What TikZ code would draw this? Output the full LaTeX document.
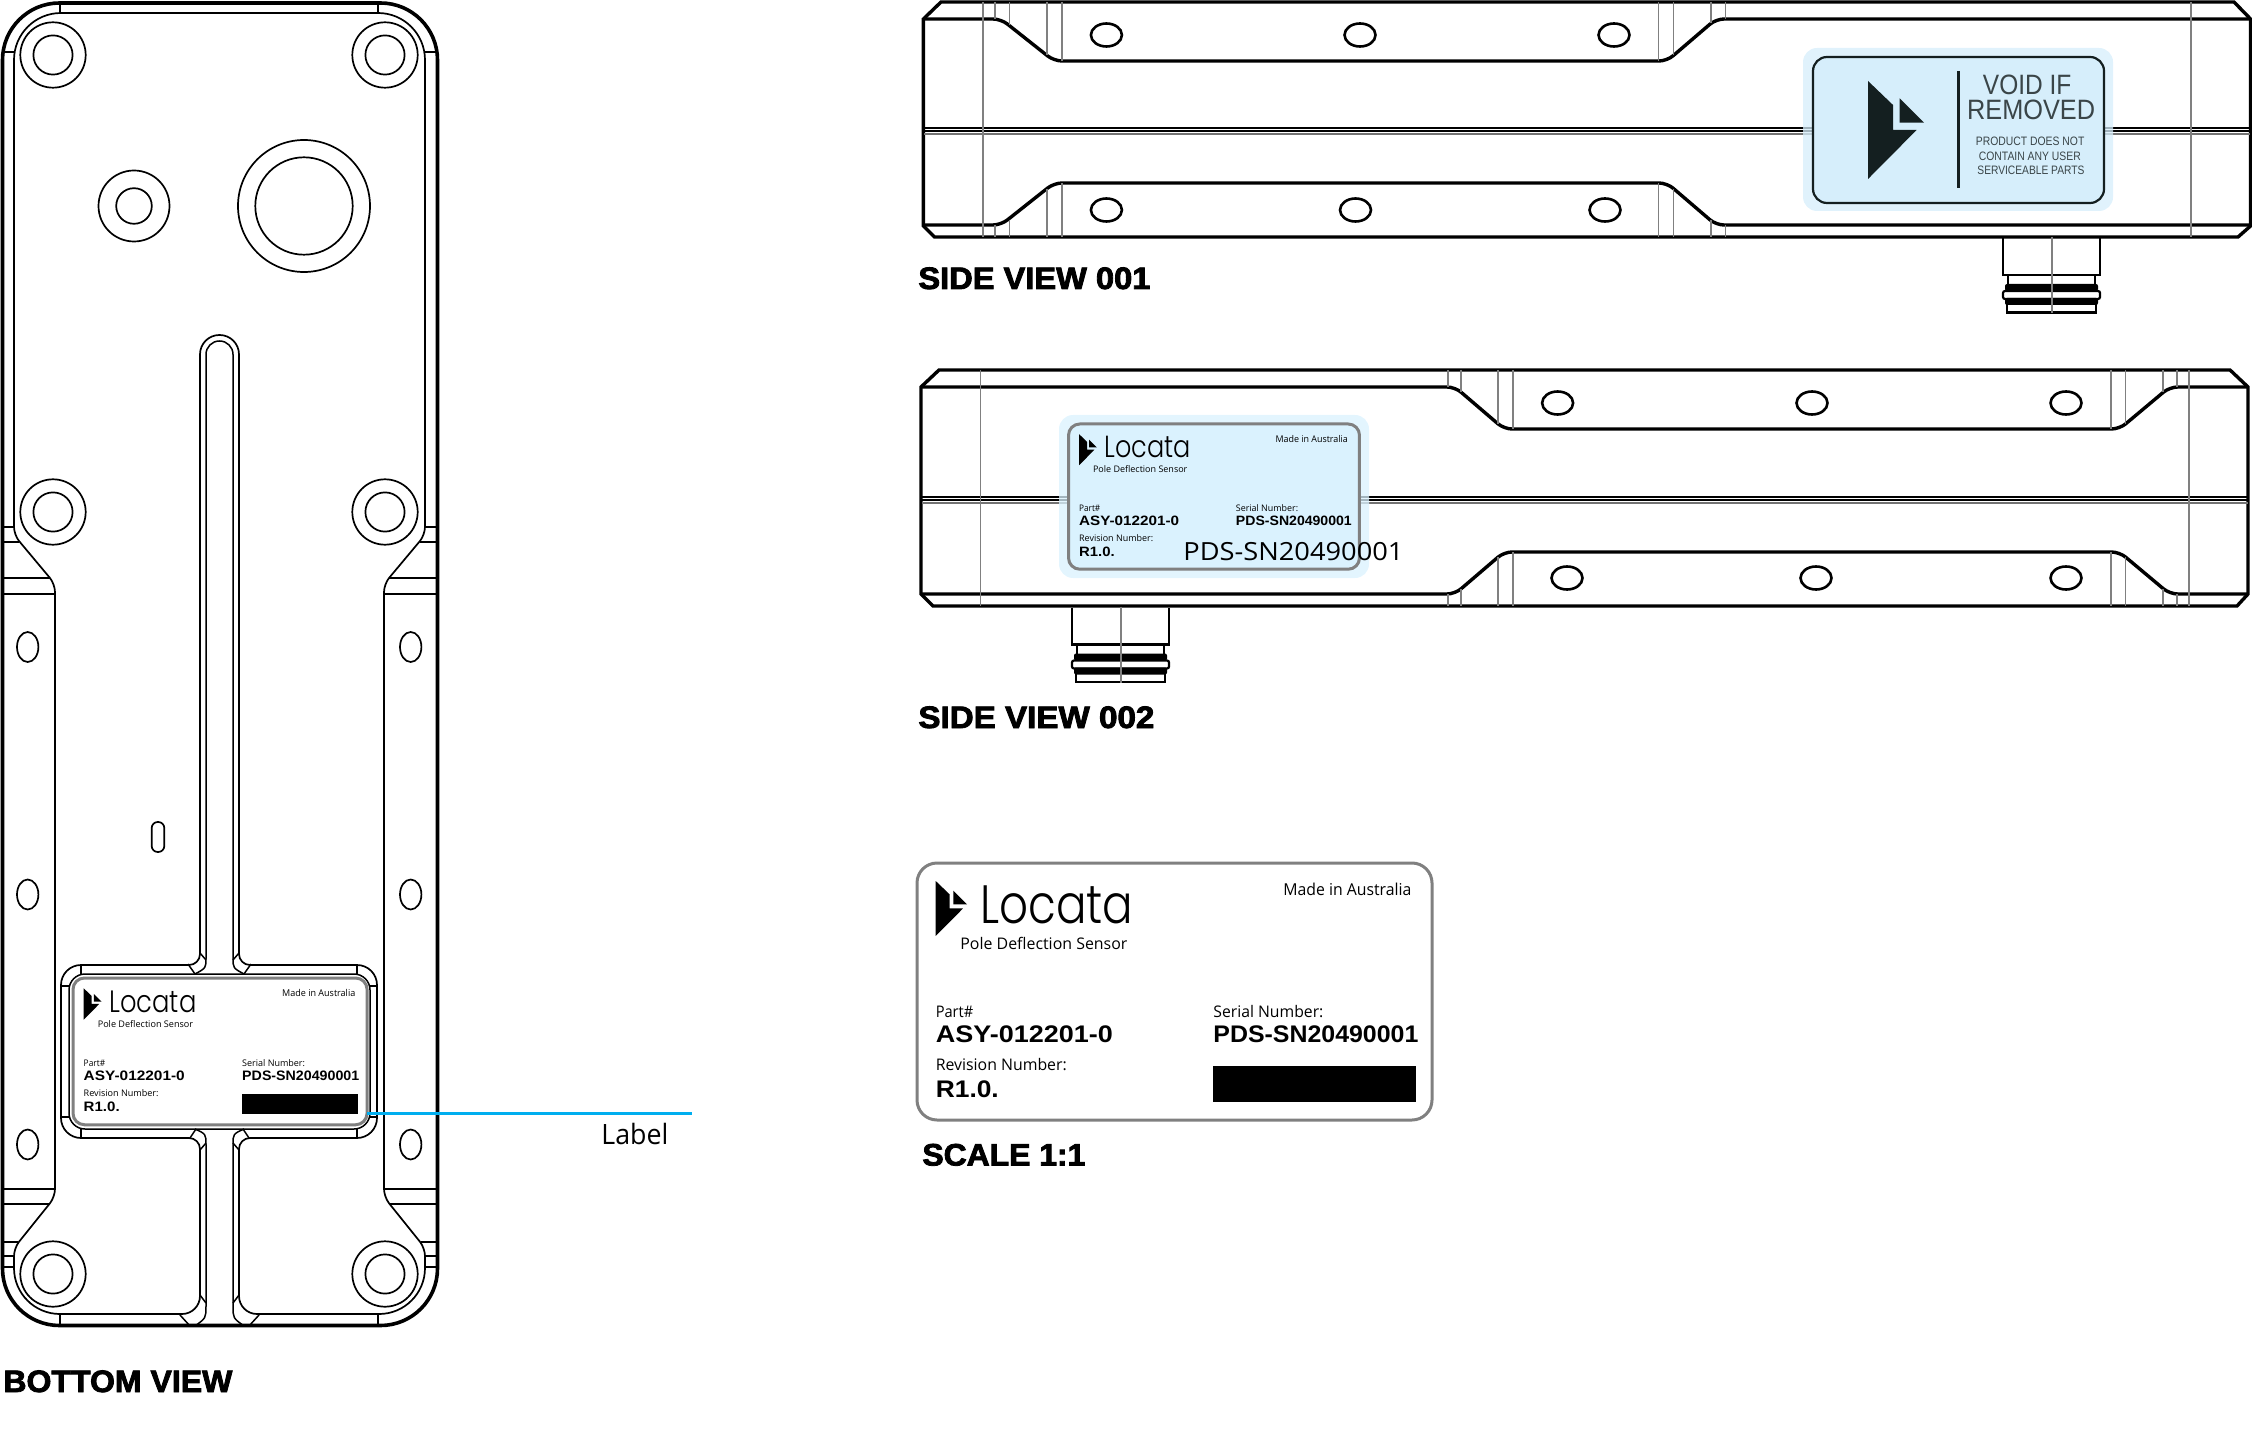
\documentclass[tikz,border=0pt]{standalone}
\usepackage{fontspec}
\usepackage{graphicx}
\setmainfont{Open Sans}
\newfontfamily\opn{Open Sans}
\newfontfamily\lib{Liberation Sans}
\newfontfamily\titlefont[FakeBold=2.6]{Liberation Sans}
\newfontfamily\logofont{Poppins Light}
\newsavebox\fitbox
\newcommand\fitw[2]{\sbox\fitbox{#2}\pgfmathsetmacro\fitr{0.5*#1/\the\wd\fitbox}\scalebox{\fitr}[1]{\usebox\fitbox}}
\definecolor{halo}{HTML}{D6EEFB}
\definecolor{labblue}{HTML}{DAF2FE}
\definecolor{inkdark}{HTML}{141F20}
\definecolor{voidtxt}{HTML}{3A4548}
\definecolor{leader}{HTML}{00AEEF}
\tikzset{
  txt/.style={inner sep=0pt,anchor=base west,transform shape},
  ttl/.style={inner sep=0pt,anchor=base west,font=\fontsize{15.5}{18}\selectfont\titlefont\bfseries},
  thn/.style={line width=0.75pt,black},
  med/.style={line width=0.85pt,black},
  thk/.style={line width=1.7pt,black},
  hole/.style={line width=1.3pt,black},
  gry/.style={line width=0.7pt,black!50},
}
\newcommand\logomark[4]{\fill[#4,shift={(#1,#2)},scale=#3] (0,0)--(25,24)--(25,49)--(48.6,49)--(0,98)--cycle (31.6,17.3)--(56,41.7)--(31.6,41.7)--cycle;}
% prefix, x, y, scale, fill
\newcommand\lab[5]{%
 \begin{scope}[shift={(#2,#3)},scale=#4]
  \pgfmathsetmacro\labr{10*#4}
  \draw[line width=1.5pt,black!50,fill=#5,rounded corners=\labr pt] (0,0) rectangle (515,257);
  \logomark{18.7}{18}{0.561}{black}
  \node[txt,font=\fontsize{27}{30}\selectfont\logofont] (#1-locata) at (63,60) {\fitw{153}{Locata}};
  \node[txt,font=\fontsize{8}{10}\selectfont\opn] (#1-pole) at (43,86.5) {\fitw{167}{Pole Deflection Sensor}};
  \node[txt,font=\fontsize{8.2}{10}\selectfont\opn] (#1-made) at (366,32.5) {\fitw{128}{Made in Australia}};
  \node[txt,font=\fontsize{8}{10}\selectfont\opn] (#1-part) at (18.4,154.5) {\fitw{37.5}{Part\#}};
  \node[txt,font=\fontsize{12}{14}\selectfont\lib\bfseries] (#1-asy) at (18.4,179.5) {\fitw{177}{ASY-012201-0}};
  \node[txt,font=\fontsize{8}{10}\selectfont\opn] (#1-rev) at (18.4,207.5) {\fitw{131}{Revision Number:}};
  \node[txt,font=\fontsize{12}{14}\selectfont\lib\bfseries] (#1-r) at (18.4,234.5) {\fitw{63}{R1.0.}};
  \node[txt,font=\fontsize{8}{10}\selectfont\opn] (#1-serial) at (296,154.5) {\fitw{110}{Serial Number:}};
  \node[txt,font=\fontsize{12}{14}\selectfont\lib\bfseries] (#1-pds) at (296,179.5) {\fitw{205}{PDS-SN20490001}};
 \end{scope}}
\newcommand\blackbar[3]{\fill[black,shift={(#1,#2)},scale=#3] (296,203) rectangle (499,239);}
% connector, dx, dy
\newcommand\conn[2]{%
 \begin{scope}[shift={(#1,#2)}]
  \draw[line width=1.4pt] (2003,238) -- (2003,275) -- (2100,275) -- (2100,238);
  \draw[line width=1.1pt] (2008,276) -- (2008,286) (2095,276) -- (2095,286);
  \draw[line width=1.1pt,rounded corners=1pt] (2003,291) rectangle (2100,299);
  \fill[black,rounded corners=1pt] (2005,284) rectangle (2098,291);
  \fill[black,rounded corners=1pt] (2005,298) rectangle (2098,305);
  \draw[line width=1.1pt] (2007,304) -- (2007,312.5) -- (2096,312.5) -- (2096,304);
  \draw[gry] (2052,237) -- (2052,313);
 \end{scope}}
\begin{document}
\begin{tikzpicture}[x=0.5pt,y=-0.5pt]
\useasboundingbox (0,0) rectangle (2252,1438);
%% ---------- BOTTOM VIEW ----------
\draw[line width=1.8pt,rounded corners=28.5pt] (220,3) -- (2.5,3) -- (2.5,1325.5) -- (437.5,1325.5) -- (437.5,3) -- cycle;
% main contour
\draw[med] (220,13)
 [rounded corners=23.5pt] -- (425,13)
 -- (425,300)
 [rounded corners=4pt] -- (425,535) -- (384,584)
 -- (384,1197) -- (425,1248)
 [rounded corners=23pt] -- (425,1314)
 [rounded corners=9pt] -- (239,1314)
 [rounded corners=5.5pt] -- (239,1138)
 [rounded corners=10pt] -- (377,1138) -- (377,965)
 [rounded corners=5.5pt] -- (239,965)
 [rounded corners=9.7pt] -- (239,335) -- (200,335)
 [rounded corners=5.5pt] -- (200,965)
 [rounded corners=10pt] -- (61,965) -- (61,1138)
 [rounded corners=5.5pt] -- (200,1138)
 [rounded corners=9pt] -- (200,1314)
 [rounded corners=23pt] -- (14,1314)
 [rounded corners=4pt] -- (14,1248) -- (55,1197)
 -- (55,584) -- (14,535)
 [rounded corners=23.5pt] -- (14,13) -- cycle;
% slot inner
\draw[thn,rounded corners=6.7pt] (206,958) -- (206,341) -- (233,341) -- (233,958);
\draw[thn] (206,958) .. controls (206,968) .. (195,974) (233,958) .. controls (233,968) .. (244,974);
% label pocket inner
\draw[thn,rounded corners=8pt] (69,974) rectangle (370,1129);
% lower strip
\draw[thn] (195,1129) .. controls (206,1134) .. (206,1145) -- (206,1306) .. controls (206,1318) .. (195,1326);
\draw[thn] (244,1129) .. controls (233,1134) .. (233,1145) -- (233,1306) .. controls (233,1318) .. (244,1326);
% ticks
\draw[thn] (60,3)--(60,13) (378,3)--(378,13) (60,1314)--(60,1326) (378,1314)--(378,1326);
\draw[thn] (3,52)--(14,52) (425,52)--(437,52);
\draw[thn] (3,542)--(19,542) (420,542)--(437,542) (3,578)--(50,578) (389,578)--(437,578) (3,594)--(55,594) (384,594)--(437,594);
\draw[line width=1.1pt] (3,527)--(14,527) (425,527)--(437,527);
\draw[thn] (3,1189)--(55,1189) (384,1189)--(437,1189) (3,1204)--(49,1204) (390,1204)--(437,1204) (3,1242)--(18,1242) (421,1242)--(437,1242) (3,1256)--(14,1256) (425,1256)--(437,1256) (3,1267)--(14,1267) (425,1267)--(437,1267);
\draw[thn] (188,964)--(195,974) (200,953)--(206,960) (251,964)--(244,974) (239,953)--(233,960);
\draw[thn] (190,1138)--(196,1129) (200,1150)--(206,1143) (249,1138)--(243,1129) (239,1150)--(233,1143);
\draw[thn] (180,1315)--(190,1326) (200,1295)--(206,1303) (259,1315)--(249,1326) (239,1295)--(233,1303);
\draw[thn] (81,965)--(81,974) (357,965)--(357,974) (81,1129)--(81,1138) (357,1129)--(357,1138);
\draw[thn] (61,986)--(69,986) (370,986)--(377,986) (61,1117)--(69,1117) (370,1117)--(377,1117);
% holes
\foreach \hx/\hy in {53/55,385/55,53/512,385/512,53/1274,385/1274}{
  \draw[med,fill=white] (\hx,\hy) circle[radius=32.7];
  \draw[med] (\hx,\hy) circle[radius=19.6];
}
\draw[med] (134,206) circle[radius=35.5] (134,206) circle[radius=17.8];
\draw[med] (304,206) circle[radius=66] (304,206) circle[radius=48.7];
\foreach \hx in {27.7,410.7}{\foreach \hy in {647,894.5,1144.5}{
  \draw[med] (\hx,\hy) ellipse[x radius=10.7,y radius=15];
}}
\draw[med,rounded corners=3pt] (151.7,822) rectangle (164.3,852);
% small label
\lab{a}{73}{978}{0.571}{white}
\blackbar{73}{978}{0.571}
% leader
\coordinate (leadA) at (367,1113);
\coordinate (leadB) at (692,1113);
\draw[leader,line width=1.5pt] (leadA) -- (leadB);
\node[inner sep=0pt,anchor=base west,font=\fontsize{14}{16}\selectfont\opn] (labeltxt) at (601,1144.5) {\fitw{67}{Label}};
\node[ttl] (botttl) at (3,1392) {\fitw{229}{BOTTOM VIEW}};
%% ---------- SIDE VIEW 001 ----------
\draw[thk] (941,2) -- (923.4,19) -- (923.4,226) -- (934.5,237) -- (2238,237) -- (2250.5,226) -- (2250.5,19) -- (2234,2) -- cycle;
\draw[thk,rounded corners=4pt] (923,19) -- (1001,19) -- (1054,61) -- (1667,61) -- (1716,19) -- (2250,19);
\draw[thk,rounded corners=4pt] (923,225) -- (1001,225) -- (1054,183) -- (1667,183) -- (1716,225) -- (2250,225);
\draw[line width=0.9pt] (924,128) -- (2250,128);
\draw[line width=0.6pt] (924,131) -- (2250,131);
\draw[line width=0.7pt,black!55] (924,134) -- (2250,134);
\draw[gry] (982.8,2)--(982.8,237) (2191,2)--(2191,237);
\foreach \gx/\ga/\gb in {994.8/19/225,1009.5/25/220,1047/55/189,1062/61/183,1658.6/61/183,1673.6/55/189,1711/23/220,1725.6/19/225}{
  \draw[gry] (\gx,2)--(\gx,\ga) (\gx,\gb)--(\gx,237);
}
\foreach \hx/\hy in {1106.4/35,1360/35,1614/35,1106.4/210,1355.5/210,1605/210}{
  \draw[hole] (\hx,\hy) ellipse[x radius=15.5,y radius=11.5];
}
\conn{0}{0}
\fill[halo,fill opacity=0.75,rounded corners=7pt] (1803,48) rectangle (2113,211);
\draw[line width=1.1pt,inkdark,fill=halo,rounded corners=7pt] (1813,57) rectangle (2104,203);
\logomark{1868}{81}{1}{inkdark}
\draw[line width=1.3pt,inkdark] (1958.4,71) -- (1958.4,188);
\node[inner sep=0pt,anchor=base west,text=voidtxt,font=\fontsize{14}{16}\selectfont\lib] (void1) at (1982.5,95) {\fitw{88.5}{VOID IF}};
\node[inner sep=0pt,anchor=base west,text=voidtxt,font=\fontsize{14}{16}\selectfont\lib] (void2) at (1966.7,119.3) {\fitw{128}{REMOVED}};
\node[inner sep=0pt,anchor=base west,text=voidtxt,font=\fontsize{6.1}{8}\selectfont\lib] (void3) at (1975.5,146) {\fitw{108.5}{PRODUCT DOES NOT}};
\node[inner sep=0pt,anchor=base west,text=voidtxt,font=\fontsize{6.1}{8}\selectfont\lib] (void4) at (1978.4,160.7) {\fitw{102}{CONTAIN ANY USER}};
\node[inner sep=0pt,anchor=base west,text=voidtxt,font=\fontsize{6.1}{8}\selectfont\lib] (void5) at (1977,175) {\fitw{107}{SERVICEABLE PARTS}};
\node[ttl] (sv1ttl) at (918,289) {\fitw{232}{SIDE VIEW 001}};
%% ---------- SIDE VIEW 002 ----------
\draw[thk] (939,370) -- (921,387) -- (921,594) -- (933,606) -- (2237,606) -- (2248,594) -- (2248,387) -- (2230,370) -- cycle;
\draw[thk,rounded corners=4pt] (921,387) -- (1455,387) -- (1504,429) -- (2119.5,429) -- (2169.6,387) -- (2248,387);
\draw[thk,rounded corners=4pt] (921,594) -- (1455,594) -- (1504,552) -- (2119.5,552) -- (2169.6,594) -- (2248,594);
\draw[line width=0.9pt] (922,496.7) -- (2248,496.7);
\draw[line width=0.6pt] (922,500) -- (2248,500);
\draw[line width=0.7pt,black!55] (922,503) -- (2248,503);
\draw[gry] (980.5,370)--(980.5,606) (2189,370)--(2189,606);
\foreach \gx/\ga/\gb in {1448/387/594,1461/392/589,1498/424/557,1513/429/552,2111/429/552,2125.5/424/557,2163/392/589,2177/387/594}{
  \draw[gry] (\gx,370)--(\gx,\ga) (\gx,\gb)--(\gx,606);
}
\foreach \hx/\hy in {1557.6/403,1812/403,2066/403,1567/578,1816/578,2066/578}{
  \draw[hole] (\hx,\hy) ellipse[x radius=15.5,y radius=11.5];
}
\conn{-931}{369.5}
\fill[labblue,fill opacity=0.75,rounded corners=7pt] (1059,415) rectangle (1369,578);
\lab{b}{1068.5}{424}{0.565}{labblue}
\node[inner sep=0pt,anchor=base west,font=\fontsize{12.5}{15}\selectfont\opn] (sv2pds) at (1183,560) {\fitw{220}{PDS-SN20490001}};
\node[ttl] (sv2ttl) at (918,728) {\fitw{236}{SIDE VIEW 002}};
%% ---------- SCALE 1:1 ----------
\lab{c}{917}{863}{1}{white}
\blackbar{917}{863}{1}
\node[ttl] (scalettl) at (922,1165.5) {\fitw{163}{SCALE 1:1}};
\end{tikzpicture}
\end{document}
